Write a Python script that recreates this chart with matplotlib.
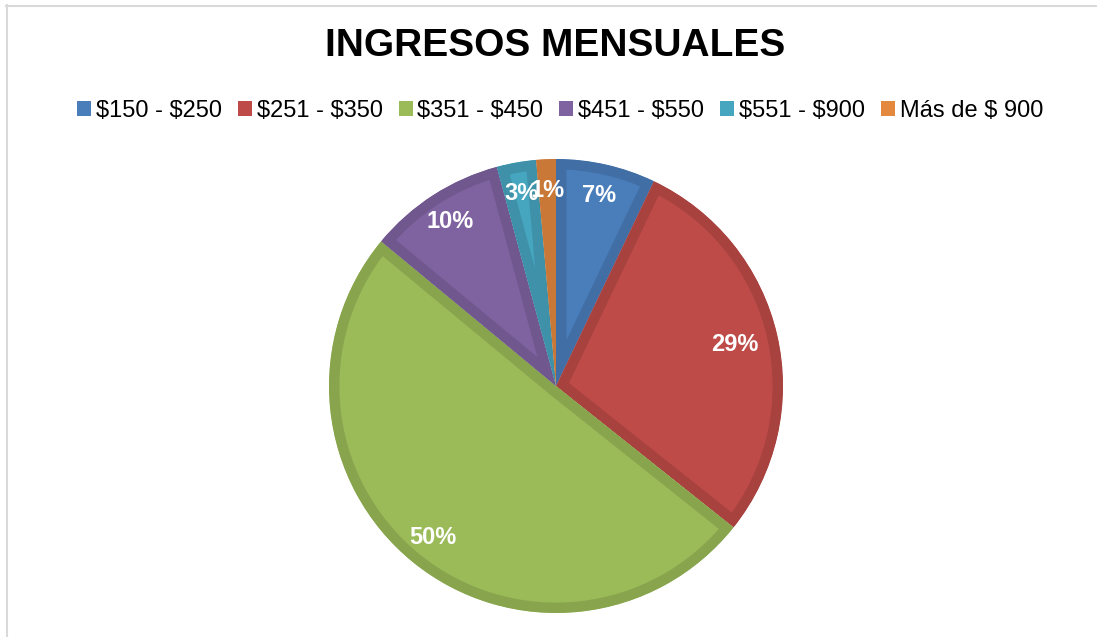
import matplotlib
matplotlib.use("Agg")
import matplotlib.pyplot as plt
from matplotlib.lines import Line2D
from matplotlib.patches import Patch
import numpy as np

plt.rcParams["font.family"] = ["Liberation Sans", "DejaVu Sans"]

TITLE = "INGRESOS MENSUALES"
categories = ["$150 - $250", "$251 - $350", "$351 - $450",
              "$451 - $550", "$551 - $900", "Más de $ 900"]
shares = [7.1, 28.6, 50.3, 9.8, 2.8, 1.4]   # percent of respondents
colors = ["#4a7ebb", "#be4b48", "#9bbb59", "#7f63a1", "#46a5bf", "#e4883e"]


def darker(hex_color, f=0.88):
    rgb = np.array(matplotlib.colors.to_rgb(hex_color))
    return tuple(rgb * f)


W, H = 1097, 637
fig = plt.figure(figsize=(W / 100, H / 100), dpi=100)

# chart frame (only top and left edges are visible in the crop)
fig.add_artist(Line2D([6 / W, 1], [1 - 5.5 / H, 1 - 5.5 / H],
                      color="#d9d9d9", lw=1.5, transform=fig.transFigure))
fig.add_artist(Line2D([6.5 / W, 6.5 / W], [0, 1 - 5 / H],
                      color="#d9d9d9", lw=1.5, transform=fig.transFigure))

# pie axes: centre (556, 386), radius 227 px
cx, cy, r = 556, 386, 227
ax = fig.add_axes([(cx - r) / W, (H - cy - r) / H, 2 * r / W, 2 * r / H])
wedges, _, autotexts = ax.pie(
    shares, colors=colors, startangle=90, counterclock=False,
    autopct=lambda p: f"{p:.0f}%", pctdistance=0.86, radius=1,
    textprops=dict(color="white", fontsize=17, fontweight="bold"))
for w, c in zip(wedges, colors):
    # darker inner rim: stroke clipped to the wedge itself
    w.set_edgecolor(darker(c))
    w.set_linewidth(15)
    w.set_joinstyle("round")
    w.set_clip_on(True)
    w.set_clip_path(w)
# the 29% label sits a bit further inside
x, y = autotexts[1].get_position()
autotexts[1].set_position((x * 0.94, y * 0.94))
ax.set_xlim(-1, 1)
ax.set_ylim(-1, 1)
ax.set_aspect("equal")
ax.axis("off")

fig.text(555 / W, 1 - 46 / H, TITLE, ha="center", va="center",
         fontsize=28, fontweight="bold", color="black")

handles = [Patch(facecolor=c, edgecolor="none") for c in colors]
labels = [c.replace("$", r"\$") for c in categories]
fig.legend(handles, labels, loc="center", ncol=6,
           bbox_to_anchor=(560 / W, 1 - 111 / H), frameon=False,
           fontsize=17, handlelength=0.6, handleheight=0.6,
           handletextpad=0.2, columnspacing=0.67, borderaxespad=0)

fig.savefig("out.png", dpi=100)
